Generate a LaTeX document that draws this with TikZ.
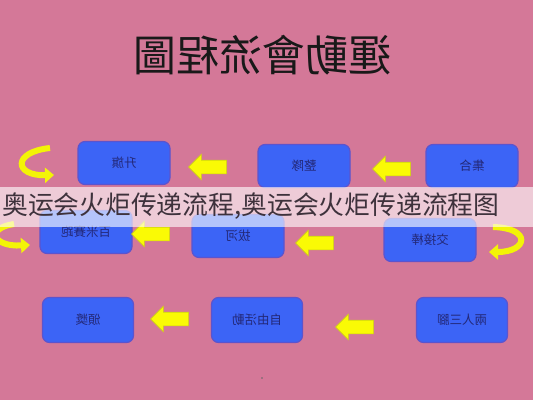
\documentclass[tikz,border=0pt]{standalone}
\usepackage{fontspec}
\newfontfamily\cjktc{Noto Sans CJK TC}
\newfontfamily\cjksc{Noto Sans CJK SC}
\usetikzlibrary{shapes, shapes.arrows, arrows.meta, positioning}

\definecolor{bgpink}{RGB}{212,120,152}
\definecolor{boxblue}{RGB}{60,100,246}
\definecolor{boxedge}{RGB}{92,84,205}
\definecolor{labelblue}{RGB}{35,40,120}
\definecolor{arrowyellow}{RGB}{250,250,5}
\definecolor{arrowedge}{RGB}{205,210,20}
\definecolor{bannertext}{RGB}{62,50,60}

\begin{document}
\begin{tikzpicture}[x=1pt, y=-1pt]
\tikzstyle{box}=[draw=boxedge, line width=1.2pt, fill=boxblue, rounded corners=7pt, minimum width=92pt, minimum height=43pt, text=labelblue, font=\cjktc\fontsize{12.5}{12.5}\selectfont]
\tikzstyle{flow}=[single arrow, shape border rotate=180, fill=arrowyellow, draw=arrowedge, line width=0.6pt, minimum height=38pt, inner sep=6.5pt, single arrow head extend=6pt]
\tikzstyle{turn}=[draw=arrowyellow!85!arrowedge, line width=6pt, -{Triangle[width=15pt, length=9pt]}]

% background
\fill[bgpink] (0,0) rectangle (533,400);
\useasboundingbox (0,0) rectangle (533,400);

% title
\node[font=\cjktc\fontsize{43}{43}\selectfont, text=black!90] (T) at (262,55) {\reflectbox{運動會流程圖}};

% steps
\node[box] (A) at (472,166) {\reflectbox{集合}};
\node[box] (B) at (304,166) {\reflectbox{整隊}};
\node[box] (C) at (124,163) {\reflectbox{升旗}};
\node[box] (D) at (430,240) {\reflectbox{交接棒}};
\node[box] (E) at (238,236) {\reflectbox{拔河}};
\node[box] (F) at (86,232)  {\reflectbox{百米賽跑}};
\node[box, minimum width=91pt, minimum height=45pt] (G) at (462,320) {\reflectbox{兩人三腳}};
\node[box, minimum width=91pt, minimum height=45pt] (H) at (257,320) {\reflectbox{自由活動}};
\node[box, minimum width=91pt, minimum height=45pt] (I) at (88,320)  {\reflectbox{頒獎}};

% arrows between steps
\node[flow] (AB) at (395,169) {};
\node[flow] (BC) at (211,167) {};
\node[flow] (DE) at (318,243) {};
\node[flow] (EF) at (154,234) {};
\node[flow] (GH) at (358,327) {};
\node[flow] (HI) at (173,319) {};

% turning arrows
\coordinate (c1s) at (50,148);
\coordinate (c1e) at (54,175);
\coordinate (c2s) at (14,224);
\coordinate (c2e) at (30,245);
\coordinate (c3s) at (493,227);
\coordinate (c3e) at (489,252);
\draw[turn] (c1s) .. controls (12,152) and (14,176) .. (c1e);
\draw[turn] (c2s) .. controls (-14,228) and (-8,247) .. (c2e);
\draw[turn] (c3s) .. controls (532,228) and (528,252) .. (c3e);

% banner
\fill[white, opacity=0.62] (0,187) rectangle (533,227);
\node[anchor=west, inner sep=0pt, text=bannertext, font=\cjksc\fontsize{25.8}{25.8}\selectfont] (S) at (2,206) {奥运会火炬传递流程,奥运会火炬传递流程图};

\fill[black!60] (262,378) circle (0.8);

\end{tikzpicture}
\end{document}
